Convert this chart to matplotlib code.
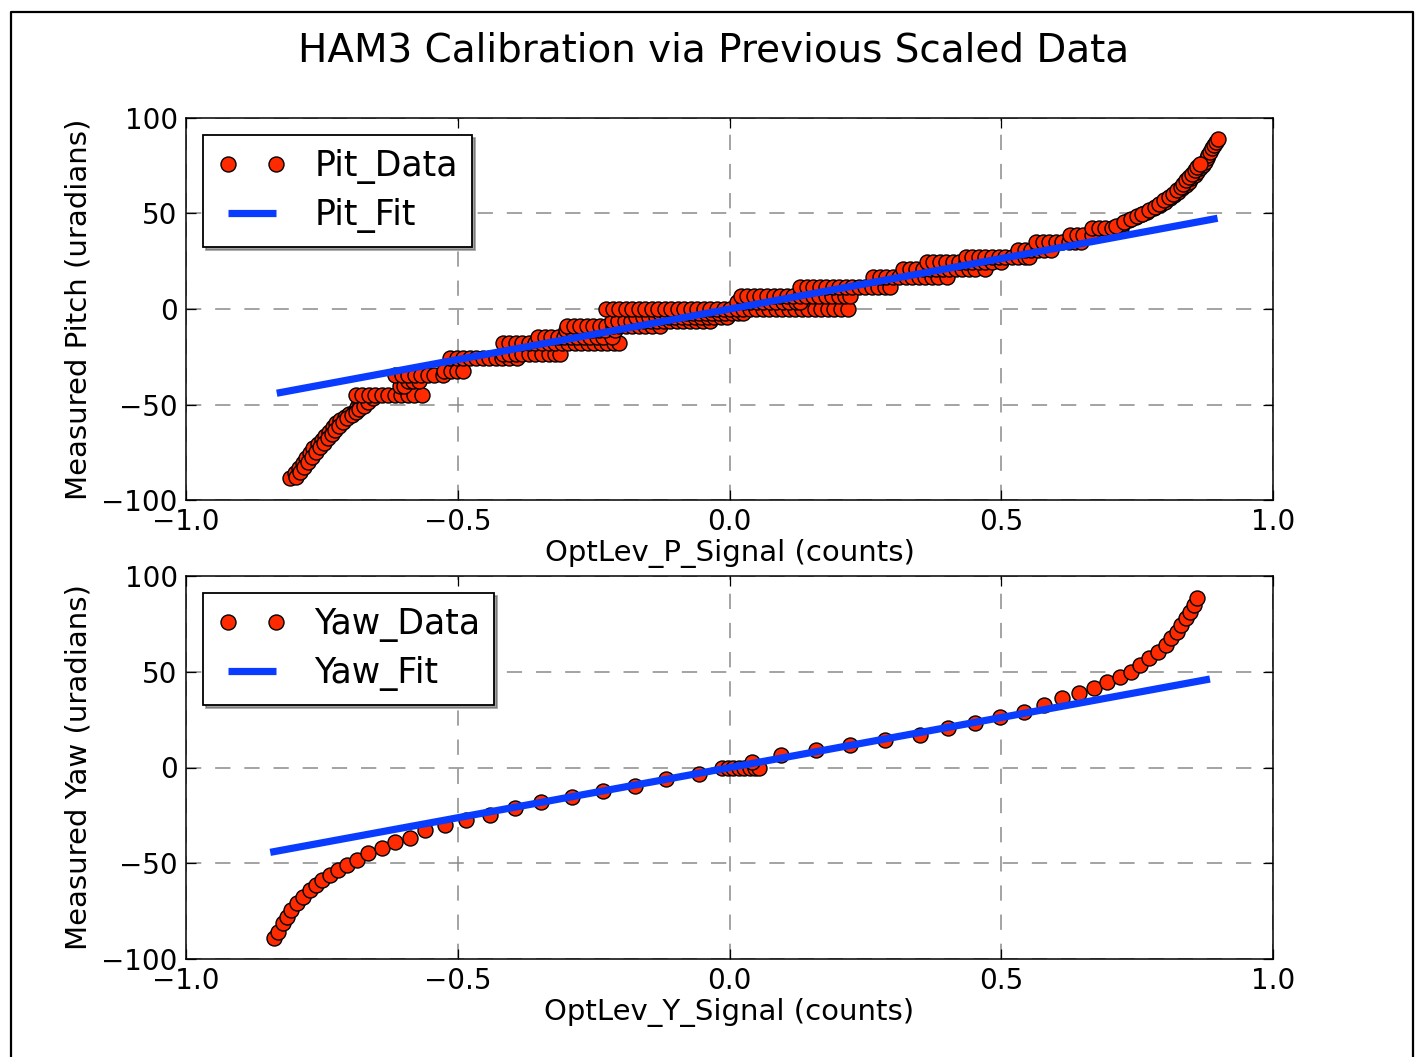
import matplotlib
matplotlib.use("Agg")
import matplotlib.pyplot as plt
from matplotlib.lines import Line2D

plt.rcParams['font.family'] = ['DejaVu Sans']
plt.rcParams['lines.scale_dashes'] = False

# ---------------- data ----------------
title = "HAM3 Calibration via Previous Scaled Data"
xticks = [-1.0, -0.5, 0.0, 0.5, 1.0]
yticks = [-100, -50, 0, 50, 100]

# Pitch: lower arc (two passes)
pit_arc_lo_x = [-0.808, -0.800, -0.792, -0.785, -0.779, -0.772, -0.766, -0.758, -0.750, -0.744,
                -0.737, -0.730, -0.724, -0.716, -0.708, -0.700, -0.691, -0.685, -0.679, -0.670,
                -0.798, -0.790, -0.782, -0.775, -0.768, -0.761, -0.754, -0.746, -0.739, -0.732,
                -0.725, -0.718, -0.711, -0.703, -0.695, -0.688, -0.681, -0.673, -0.665, -0.656]
pit_arc_lo_y = [-88.6, -86.0, -83.4, -80.8, -78.2, -75.5, -72.9, -70.7, -68.6, -66.4,
                -64.2, -62.0, -59.8, -58.0, -56.4, -55.0, -53.8, -51.5, -49.4, -47.5,
                -88.0, -85.4, -82.8, -80.2, -77.6, -75.0, -72.4, -70.0, -67.8, -65.6,
                -63.4, -61.2, -59.0, -57.2, -55.6, -54.0, -52.6, -50.8, -48.8, -46.8]

# Pitch: staircase levels (y) and the x readings along each level
pit_levels = [-45.0, -40.5, -37.5, -34.5, -32.5, -25.5, -23.5, -18.0, -14.5, -11.0,
              -9.0, -6.5, -4.0, -2.0, 0.0, 3.5, 7.0, 11.7, 16.5, 21.0,
              24.5, 27.0, 31.0, 35.0, 38.7, 42.2]
pit_level_x = [
    [-0.688, -0.676, -0.664, -0.652, -0.640, -0.628, -0.616, -0.604, -0.592, -0.580, -0.566],
    [-0.606, -0.598],
    [-0.592, -0.582, -0.572],
    [-0.615, -0.603, -0.591, -0.579, -0.567, -0.555, -0.543, -0.527],
    [-0.525, -0.513, -0.501, -0.490],
    [-0.514, -0.502, -0.490, -0.478, -0.466, -0.454, -0.442, -0.430, -0.418, -0.406, -0.391],
    [-0.417, -0.405, -0.393, -0.381, -0.369, -0.357, -0.345, -0.333, -0.321, -0.312],
    [-0.417, -0.405, -0.393, -0.381, -0.369, -0.357, -0.345, -0.333, -0.321, -0.309,
     -0.297, -0.285, -0.273, -0.261, -0.249, -0.237, -0.225, -0.213, -0.203],
    [-0.352, -0.340, -0.328, -0.316, -0.304, -0.292, -0.280, -0.268, -0.256, -0.244, -0.232, -0.216],
    [-0.301, -0.289, -0.277, -0.265, -0.253, -0.241, -0.229, -0.211],
    [-0.299, -0.287, -0.275, -0.263, -0.251, -0.239, -0.227, -0.215, -0.203, -0.191,
     -0.179, -0.167, -0.155, -0.143, -0.128],
    [-0.217, -0.205, -0.193, -0.181, -0.169, -0.157, -0.145, -0.133, -0.121, -0.109,
     -0.097, -0.085, -0.073, -0.061, -0.049, -0.036],
    [-0.172, -0.160, -0.148, -0.136, -0.124, -0.112, -0.100, -0.088, -0.076, -0.064,
     -0.052, -0.040, -0.028, -0.016, -0.005],
    [-0.128, -0.116, -0.104, -0.092, -0.080, -0.068, -0.056, -0.044, -0.032, -0.020,
     -0.008, 0.004, 0.016, 0.025],
    [-0.227, -0.215, -0.203, -0.191, -0.179, -0.167, -0.155, -0.143, -0.131, -0.119,
     -0.107, -0.095, -0.083, -0.071, -0.059, -0.047, -0.035, -0.023, -0.011, 0.001,
     0.013, 0.025, 0.037, 0.049, 0.061, 0.073, 0.085, 0.097, 0.109, 0.121,
     0.133, 0.145, 0.157, 0.169, 0.181, 0.193, 0.205, 0.218],
    [0.014, 0.026, 0.038, 0.050, 0.062, 0.074, 0.086, 0.098, 0.110, 0.122, 0.130],
    [0.021, 0.033, 0.045, 0.057, 0.069, 0.081, 0.093, 0.105, 0.117, 0.129,
     0.141, 0.153, 0.165, 0.177, 0.189, 0.201, 0.213, 0.222],
    [0.130, 0.142, 0.154, 0.166, 0.178, 0.190, 0.202, 0.214, 0.226, 0.238,
     0.250, 0.262, 0.274, 0.286, 0.295],
    [0.264, 0.276, 0.288, 0.300, 0.312, 0.324, 0.336, 0.348, 0.360, 0.372, 0.384, 0.400],
    [0.320, 0.332, 0.344, 0.356, 0.368, 0.380, 0.392, 0.404, 0.416, 0.428, 0.440, 0.452, 0.470],
    [0.363, 0.375, 0.387, 0.399, 0.411, 0.423, 0.435, 0.447, 0.459, 0.471, 0.483, 0.500],
    [0.435, 0.447, 0.459, 0.471, 0.483, 0.495, 0.507, 0.519, 0.531, 0.543, 0.551],
    [0.531, 0.543, 0.555, 0.567, 0.579, 0.592],
    [0.564, 0.576, 0.588, 0.600, 0.612, 0.624, 0.636, 0.647],
    [0.627, 0.639, 0.651, 0.667],
    [0.667, 0.679, 0.691, 0.703, 0.720],
]

# Pitch: upper arc (two passes)
pit_arc_hi_x = [0.722, 0.735, 0.748, 0.759, 0.769, 0.781, 0.792, 0.801, 0.810, 0.818,
                0.826, 0.833, 0.840, 0.845, 0.850, 0.856, 0.861, 0.866, 0.871, 0.875,
                0.878, 0.881, 0.884, 0.888, 0.891, 0.895, 0.898,
                0.712, 0.725, 0.738, 0.749, 0.759, 0.771, 0.782, 0.791, 0.800, 0.808,
                0.816, 0.823, 0.830, 0.835, 0.840, 0.846, 0.851, 0.856, 0.861, 0.865]
pit_arc_hi_y = [44.5, 46.5, 48.3, 49.6, 50.9, 52.7, 54.5, 56.2, 58.0, 59.7,
                61.4, 63.2, 64.9, 66.6, 68.4, 70.1, 71.9, 73.6, 75.4, 77.1,
                78.9, 80.6, 82.4, 84.1, 85.9, 87.3, 88.8,
                43.5, 45.5, 47.3, 48.6, 49.9, 51.7, 53.5, 55.2, 57.0, 58.7,
                60.4, 62.2, 63.9, 65.6, 67.4, 69.1, 70.9, 72.6, 74.4, 76.1]

pit_fit_x = [-0.833, 0.898]
pit_fit_y = [-44.1, 47.5]

# Yaw data
yaw_x = [-0.839, -0.830, -0.821, -0.815, -0.806, -0.796, -0.784, -0.772, -0.760, -0.750,
         -0.735, -0.720, -0.704, -0.686, -0.665, -0.640, -0.615, -0.588, -0.560, -0.523,
         -0.484, -0.441, -0.395, -0.346, -0.290, -0.232, -0.174, -0.116, -0.057, -0.013,
         -0.003, 0.007, 0.017, 0.027, 0.037, 0.047, 0.055, 0.041, 0.095, 0.160,
         0.221, 0.286, 0.351, 0.402, 0.452, 0.497, 0.541, 0.578, 0.612, 0.643,
         0.670, 0.694, 0.718, 0.738, 0.755, 0.772, 0.789, 0.803, 0.813, 0.823,
         0.830, 0.840, 0.847, 0.854, 0.861]
yaw_y = [-89.2, -85.7, -81.4, -77.9, -74.4, -70.9, -67.5, -64.0, -61.4, -58.7,
         -56.1, -53.5, -50.9, -48.3, -44.8, -42.2, -38.7, -37.0, -32.6, -30.0,
         -27.4, -24.8, -21.3, -17.9, -15.2, -12.1, -9.7, -6.2, -3.4, -0.4,
         -0.4, -0.4, -0.4, -0.4, -0.4, -0.4, -0.4, 3.0, 6.5, 9.1,
         11.7, 14.4, 17.0, 20.5, 23.4, 26.5, 29.1, 32.6, 36.1, 38.7,
         41.4, 44.8, 47.4, 50.0, 53.5, 57.0, 60.5, 64.0, 67.5, 70.9,
         74.4, 77.9, 81.4, 84.9, 88.4]

yaw_fit_x = [-0.845, 0.884]
yaw_fit_y = [-44.3, 46.2]

# ---------------- figure ----------------
W, H = 1416, 1057
fig = plt.figure(figsize=(W / 100, H / 100), dpi=100, facecolor='white')

def px_axes(left, top, right, bottom):
    return fig.add_axes([left / W, 1 - bottom / H, (right - left) / W, (bottom - top) / H])

ax1 = px_axes(186, 118, 1273, 500)
ax2 = px_axes(186, 576, 1273, 959)

red = '#ff2a00'
blue = '#0a3cff'
mk = dict(linestyle='none', marker='o', markersize=10.8, markerfacecolor=red,
          markeredgecolor='black', markeredgewidth=1.0)

# pitch data
px_all = list(pit_arc_lo_x)
py_all = list(pit_arc_lo_y)
for lvl, xs in zip(pit_levels, pit_level_x):
    px_all += xs
    py_all += [lvl] * len(xs)
px_all += pit_arc_hi_x
py_all += pit_arc_hi_y
ax1.plot(px_all, py_all, label='Pit_Data', **mk)
ax1.plot(pit_fit_x, pit_fit_y, color=blue, lw=5.2, label='Pit_Fit', solid_capstyle='butt')

ax2.plot(yaw_x, yaw_y, label='Yaw_Data', **mk)
ax2.plot(yaw_fit_x, yaw_fit_y, color=blue, lw=5.2, label='Yaw_Fit', solid_capstyle='butt')

for ax, xl, yl in [(ax1, 'OptLev_P_Signal (counts)', 'Measured Pitch (uradians)'),
                   (ax2, 'OptLev_Y_Signal (counts)', 'Measured Yaw (uradians)')]:
    ax.set_xlim(-1, 1)
    ax.set_ylim(-100, 100)
    ax.set_xticks(xticks)
    ax.set_yticks(yticks)
    ax.set_xticklabels(['\u22121.0', '\u22120.5', '0.0', '0.5', '1.0'])
    ax.set_yticklabels(['\u2212100', '\u221250', '0', '50', '100'])
    ax.tick_params(direction='in', top=True, right=True, length=7, width=0.9,
                   labelsize=20, pad=6)
    ax.grid(True, color='#8a8a8a', linestyle=(0, (11, 10)), linewidth=1.1)
    ax.set_axisbelow(True)
    for s in ax.spines.values():
        s.set_linewidth(1.1)
    ax.set_xlabel(xl, fontsize=21, labelpad=2)
    ax.set_ylabel(yl, fontsize=21, labelpad=6)
    leg = ax.legend(loc='upper left', numpoints=2, fontsize=25, shadow=True,
                    fancybox=False, framealpha=1, edgecolor='black',
                    borderaxespad=0.5, handlelength=2.0, handletextpad=0.8,
                    borderpad=0.4, labelspacing=0.4)
    leg.get_frame().set_linewidth(1.3)

fig.suptitle(title, x=714 / W, y=1 - 32 / H, va='top', fontsize=28)

# frame around the picture
fx = [11 / W, 11 / W, 1413 / W, 1413 / W]
fy = [0, 1 - 12 / H, 1 - 12 / H, 0]
fig.add_artist(Line2D(fx, fy, transform=fig.transFigure, color='black', lw=1.6))

fig.savefig('out.png', dpi=100, facecolor='white')
